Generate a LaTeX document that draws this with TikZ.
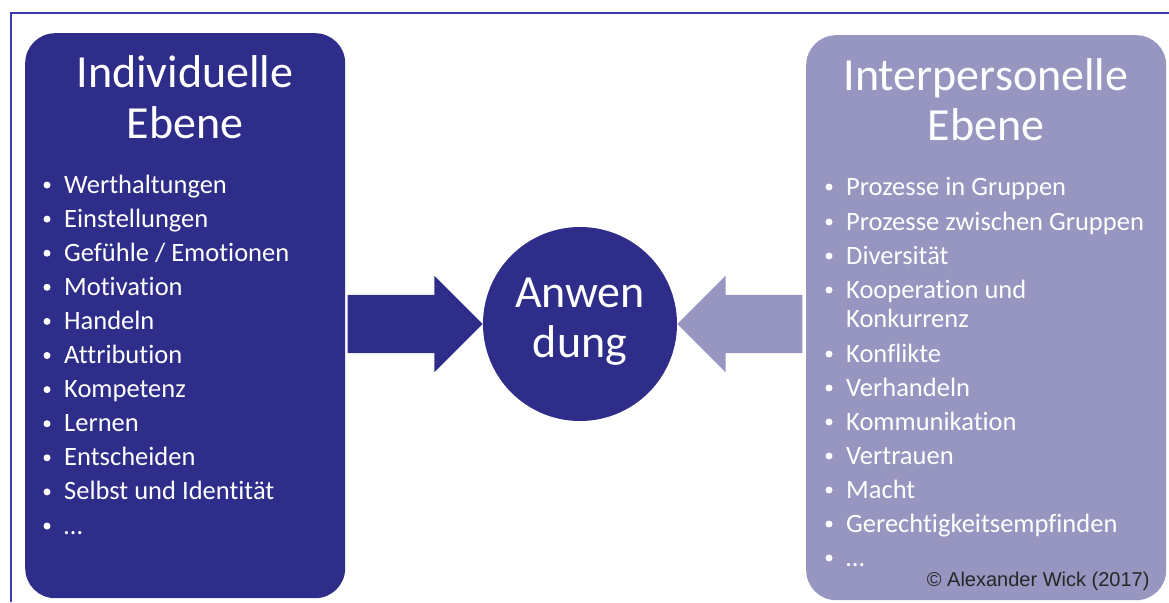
\documentclass[tikz,border=0pt]{standalone}
\usepackage{fontspec}
\setmainfont{Carlito}[Ligatures=NoCommon]
\newfontfamily\arialfont{Liberation Sans}
\usetikzlibrary{shapes.arrows}
\definecolor{indblue}{RGB}{46,46,138}
\definecolor{interblue}{RGB}{150,150,192}
\definecolor{frameblue}{RGB}{60,60,176}
\begin{document}
\begin{tikzpicture}[x=1pt, y=-1pt,
    ebenebox/.style={rounded corners=30pt, minimum height=565pt, anchor=north west, inner sep=0pt},
    title/.style={text=white, font=\fontsize{46}{50}\selectfont, anchor=base},
    item/.style={text=white, font=\fontsize{26.5}{30}\selectfont, anchor=base west, inner xsep=0pt},
    bigarrow/.style={single arrow, single arrow head extend=19pt, minimum width=96pt, inner xsep=0pt, inner ysep=29pt, anchor=tip}]
    \useasboundingbox (0,0) rectangle (1169,602);
    \draw [frameblue, line width=2pt] (11,602) -- (11,13) -- (1169,13);
    % the two levels
    \node (ind) [ebenebox, fill=indblue, minimum width=320pt] at (25,33) {};
    \node (int) [ebenebox, fill=interblue, minimum width=360pt] at (806,35) {};
    \node (indtitle1) [title] at (185,88) {Individuelle};
    \node (indtitle2) [title] at (185,138) {Ebene};
    \node (inttitle1) [title] at (986,90) {Interpersonelle};
    \node (inttitle2) [title] at (986,140) {Ebene};
    \foreach \t [count=\i from 0] in {Werthaltungen, Einstellungen, Gefühle / Emotionen, Motivation, Handeln, Attribution, Kompetenz, Lernen, Entscheiden, Selbst und Identität, …} {
        \fill [white] (47,193+34.1*\i-8) circle (3.5);
        \node (ind\i) [item] at (64,193+34.1*\i) {\t};
    }
    \foreach \t/\y [count=\i] in {Prozesse in Gruppen/195, Prozesse zwischen Gruppen/230, Diversität/264, Kooperation und/298, Konflikte/362, Verhandeln/396, Kommunikation/430, Vertrauen/464, Macht/498, Gerechtigkeitsempfinden/532, …/566} {
        \fill [white] (829,\y-8) circle (3.5);
        \node (int\i) [item] at (846,\y) {\t};
    }
    \node (int4b) [item] at (846,327) {Konkurrenz};
    % application
    \node (anw) [circle, fill=indblue, minimum size=194pt, inner sep=0pt] at (580,324) {};
    \node (anw1) [title] at (580,307) {Anwen};
    \node (anw2) [title] at (580,357) {dung};
    \node (inarrow) [bigarrow, fill=indblue, minimum height=135pt] at (anw.west) {};
    \node (intarrow) [bigarrow, fill=interblue, minimum height=125pt, shape border rotate=180] at (anw.east) {};
    \node (copy) [anchor=base east, font=\arialfont\fontsize{20}{24}\selectfont, text=black!85] at (1153,586) {© Alexander Wick (2017)};
\end{tikzpicture}
\end{document}
